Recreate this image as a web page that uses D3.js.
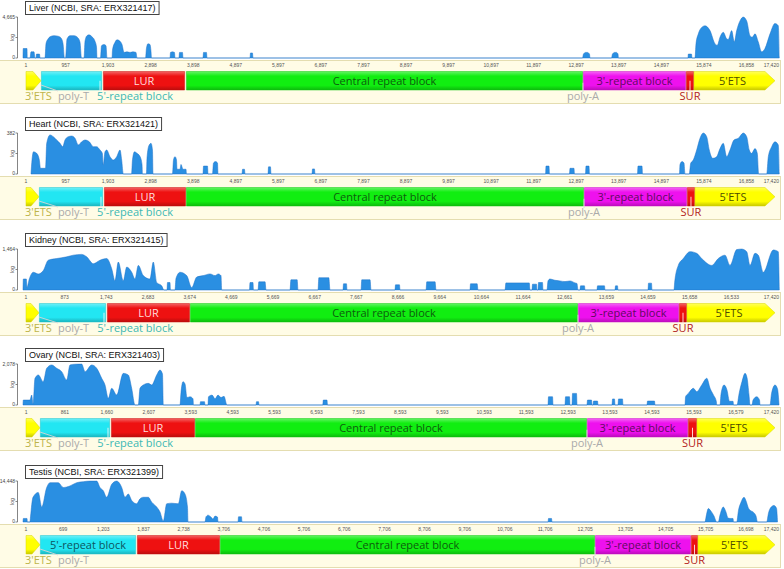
<!DOCTYPE html>
<html><head><meta charset="utf-8">
<script src="https://cdn.jsdelivr.net/npm/d3@7"></script>
<style>body{margin:0;background:#fff}svg{display:block}</style>
</head><body><svg id="c" width="784" height="569"></svg>
<script>
// ---------------- DATA ----------------
const sampleNames = ["Liver (NCBI, SRA: ERX321417)", "Heart (NCBI, SRA: ERX321421)", "Kidney (NCBI, SRA: ERX321415)", "Ovary (NCBI, SRA: ERX321403)", "Testis (NCBI, SRA: ERX321399)"];
const maxCoverage = [4665, 382, 1464, 2078, 14448];
// number of alignment columns shown in each track
const alignmentLength = [17790, 17790, 18168, 18054, 18849];
const featureNames = ["3'ETS", "5'-repeat block", "LUR", "Central repeat block", "3'-repeat block", "SUR", "5'ETS"];

// ruler labels: reference position at alignment columns (first, every 1000th, last)
const liverTicks = ["1","957","1,903","2,898","3,898","4,897","5,897","6,897","7,897","8,897","9,897","10,897","11,897","12,897","13,897","14,897","15,874","16,858","17,420"];
const heartTicks = ["1","957","1,903","2,898","3,898","4,897","5,897","6,897","7,897","8,897","9,897","10,897","11,897","12,897","13,897","14,897","15,874","16,858","17,420"];
const kidneyTicks = ["1","873","1,743","2,683","3,674","4,669","5,669","6,667","7,667","8,666","9,664","10,664","11,664","12,661","13,659","14,659","15,658","16,533","17,420"];
const ovaryTicks = ["1","861","1,660","2,607","3,593","4,593","5,593","6,593","7,593","8,593","9,593","10,593","11,593","12,593","13,593","14,593","15,593","16,579","17,420"];
const testisTicks = ["1","699","1,203","1,837","2,738","3,706","4,706","5,706","6,706","7,706","8,706","9,706","10,706","11,706","12,705","13,705","14,705","15,705","16,698","17,420"];

// annotation spans [startColumn, endColumn] in featureNames order
const liverSpans = [[70,423],[423,1857],[1880,3807],[3831,13160],[13160,15581],[15581,15769],[15769,17672]];
const heartSpans = [[70,376],[376,1880],[1904,3831],[3831,13184],[13184,15604],[15604,15792],[15792,17672]];
const kidneySpans = [[72,384],[384,1992],[2016,4008],[4008,13320],[13320,15744],[15744,15936],[15936,18048]];
const ovarySpans = [[72,405],[405,2075],[2099,4102],[4102,13451],[13451,15860],[15860,16075],[16075,17935]];
const testisSpans = [[75,423],[423,2814],[2839,4905],[4905,14243],[14243,16633],[16633,16808],[16808,18725]];

// coverage: [alignment column, log10 depth]
const liverCoverage = [[0,0],[5,0.85],[94,0.85],[100,0],
[165,0],[188,0.55],[259,0.55],[282,0],
[306,0],[317,0.35],[388,0.35],[400,0],
[517,0],[541,1.3],[588,1.7],[635,1.9],[729,2.0],[823,1.95],[893,1.8],[940,1.3],[975,0],
[999,0],[1034,1.7],[1105,2.0],[1199,2.0],[1293,1.8],[1340,1.4],[1375,0],
[1434,0],[1457,1.5],[1504,2.0],[1551,2.07],[1622,1.9],[1692,1.5],[1727,1.0],[1739,0],
[1821,0],[1845,1.1],[1904,1.2],[1951,1.1],[1974,0],
[2092,0],[2103,0.7],[2162,1.4],[2209,1.63],[2280,1.5],[2327,1.2],[2374,0.5],[2444,0.55],[2515,0.5],[2585,0.55],[2656,0.5],[2679,0],
[2879,0],[2902,0.9],[2938,1.28],[2985,1.2],[3008,0.6],[3020,0],
[3455,0],[3466,0.5],[3513,0.55],[3560,0.5],[3572,0],
[3666,0],[3678,0.5],[3748,0.5],[3760,0],
[4230,0],[4242,0.5],[4312,0.5],[4324,0],
[5335,0],[5346,0.45],[5393,0.45],[5405,0],
[13148,0],[13172,0.35],[13219,0.5],[13266,0.5],[13313,0.35],[13325,0],
[13830,0],[13853,0.35],[13900,0.5],[13947,0.5],[13983,0.35],[13994,0],
[15628,0],[15635,0.35],[15710,0.35],[15722,0],
[15792,0],[15816,1.28],[15870,2.16],[15950,2.74],[16027,2.88],[16145,2.45],[16262,1.28],[16316,1.14],[16380,1.86],[16457,2.3],[16537,1.72],[16575,1.66],[16654,2.45],[16716,1.43],[16772,2.45],[16850,3.32],[16927,3.66],[17007,3.32],[17085,2.0],[17139,1.86],[17202,2.16],[17280,1.43],[17359,0.55],[17437,0.85],[17555,2.16],[17672,3.09],[17750,2.88],[17773,0]];

const heartCoverage = [[188,0],[212,0.9],[247,1.4],[322,1.3],[383,0.9],[411,0.36],[529,0.36],[557,1.93],[635,2.46],[712,2.35],[792,2.14],[870,1.93],[933,1.72],[987,2.14],[1065,2.35],[1144,2.39],[1222,2.25],[1300,1.83],[1379,2.03],[1457,2.14],[1558,2.03],[1652,1.72],[1732,1.72],[1810,1.51],[1864,1.3],[1887,0.57],[1927,1.4],[1967,1.51],[2045,1.09],[2122,0.88],[2202,1.09],[2280,1.51],[2319,0.88],[2357,0],
[2550,0],[2573,0.9],[2620,1.4],[2679,1.3],[2750,1.1],[2797,0.6],[2808,0],
[2902,0],[2914,1.0],[2961,1.8],[3008,1.93],[3043,1.5],[3055,0],
[3513,0],[3537,0.9],[3572,1.09],[3607,0.9],[3619,0.3],[3690,0.3],[3713,0.6],[3760,0.3],[3831,0.3],[3842,0],
[4230,0],[4242,0.5],[4336,0.5],[4348,0],
[4453,0],[4477,0.7],[4524,0.78],[4571,0.7],[4583,0],
[5147,0],[5160,0.3],[5205,0.3],[5217,0],
[5758,0],[5770,0.45],[5816,0.45],[5828,0],
[6792,0],[6804,0.32],[6850,0.32],[6862,0],
[12280,0],[12291,0.5],[12361,0.5],[12373,0],
[12843,0],[12855,0.36],[12949,0.36],[12960,0],
[13219,0],[13231,0.5],[13301,0.5],[13313,0],
[14441,0],[14453,0.5],[14547,0.5],[14559,0],
[15428,0],[15440,0.6],[15487,0.78],[15534,0.7],[15557,0],
[15658,0],[15691,0.67],[15752,0.88],[15832,1.51],[15910,2.25],[15987,2.58],[16067,2.35],[16128,1.51],[16208,0.99],[16302,1.09],[16380,1.6],[16457,1.93],[16537,1.09],[16615,1.51],[16709,2.14],[16810,2.25],[16927,2.58],[17007,2.35],[17068,1.51],[17124,1.3],[17202,1.6],[17256,1.3],[17289,0],
[17477,0],[17515,1.09],[17594,1.72],[17672,2.03],[17750,1.83],[17773,0]];

const kidneyCoverage = [[0,0],[8,0.85],[80,0.85],[96,0.2],[151,0.85],[247,1.37],[367,1.24],[487,1.5],[607,2.3],[809,2.43],[1049,2.56],[1207,2.69],[1409,2.75],[1529,2.56],[1687,2.03],[1848,2.3],[2009,2.43],[2129,1.64],[2208,0.71],[2287,2.16],[2407,0.71],[2489,1.77],[2609,1.37],[2688,0.85],[2767,1.9],[2887,1.11],[3048,0.85],[3127,2.16],[3209,0.58],[3329,0.32],[3384,0],
[3456,0],[3468,0.58],[3528,0.58],[3540,0],
[3648,0],[3672,0.9],[3768,1.37],[3929,1.11],[4049,0.18],[4169,1.0],[4327,1.11],[4488,1.24],[4608,1.11],[4687,1.24],[4752,1.11],[4769,0],
[5436,0],[5448,0.58],[5520,0.58],[5532,0],
[5640,0],[5660,0.63],[5810,0.63],[5832,0],
[6408,0],[6430,0.79],[6580,0.79],[6600,0],
[7080,0],[7100,0.95],[7340,0.95],[7368,0],
[7680,0],[7692,0.48],[7764,0.48],[7776,0],
[8112,0],[8130,0.79],[8330,0.79],[8352,0],
[8928,0],[8940,0.4],[9036,0.4],[9048,0],
[9672,0],[9690,0.63],[9890,0.63],[9912,0],
[10728,0],[10740,0.48],[10900,0.48],[10920,0],
[11568,0],[11590,0.55],[12150,0.55],[12168,0],
[12216,0],[12228,0.45],[12324,0.45],[12336,0],
[12360,0],[12372,0.58],[12468,0.58],[12480,0],
[12576,0],[12600,0.7],[12648,0.85],[12768,0.75],[12888,0.7],[13008,0.65],[13128,0.7],[13248,0.55],[13296,0.5],[13320,0],
[13368,0],[13380,0.32],[13476,0.32],[13488,0],
[13776,0],[13788,0.32],[13956,0.32],[13968,0],
[14208,0],[14220,0.32],[14268,0.32],[14280,0],
[15000,0],[15012,0.53],[15084,0.53],[15096,0],
[15624,0],[15640,0.6],[15727,1.9],[15847,2.43],[16008,2.96],[16169,2.83],[16289,2.43],[16529,1.9],[16687,2.43],[16848,2.69],[16968,1.9],[17129,3.12],[17249,3.16],[17369,2.96],[17448,1.9],[17568,2.83],[17647,2.69],[17767,1.37],[18007,3.09],[18127,2.96],[18151,0]];

const ovaryCoverage = [[0,0],[7,0.4],[167,0.4],[207,0.81],[239,0.1],[286,2.16],[365,2.43],[484,1.89],[565,2.97],[684,3.24],[804,2.97],[923,2.7],[1042,2.02],[1121,3.24],[1240,3.3],[1400,3.31],[1479,2.7],[1638,3.24],[1758,2.97],[1877,2.16],[1956,1.62],[2034,0.54],[2115,1.35],[2235,0.81],[2392,2.56],[2511,2.43],[2592,1.35],[2671,0],
[2750,0],[2790,1.35],[2869,1.62],[2988,1.75],[3069,1.62],[3189,2.43],[3267,2.83],[3327,2.5],[3346,0],
[3744,0],[3768,1.0],[3816,1.89],[3864,1.7],[3911,0.6],[3983,0.67],[4055,0.5],[4066,0],
[4221,0],[4233,0.27],[4329,0.27],[4341,0],
[4412,0],[4424,0.67],[4508,0.8],[4580,0.5],[4651,0.8],[4723,0.6],[4794,0.7],[4865,0],
[5557,0],[5569,0.27],[5617,0.27],[5629,0],
[7150,0],[7162,0.4],[7250,0.4],[7262,0],
[12521,0],[12533,0.67],[12629,0.67],[12641,0],
[12927,0],[12939,0.67],[13034,0.67],[13046,0],
[13094,0],[13106,0.94],[13201,0.94],[13213,0],
[13451,0],[13463,0.4],[13559,0.4],[13571,0],
[13595,0],[13607,0.32],[13702,0.32],[13714,0],
[14048,0],[14060,0.49],[14107,0.49],[14119,0],
[14191,0],[14203,0.49],[14298,0.49],[14310,0],
[14882,0],[14894,0.32],[15061,0.32],[15073,0],
[15789,0],[15801,0.67],[15868,0.94],[15987,1.35],[16068,1.08],[16188,1.62],[16308,2.16],[16387,1.35],[16467,0.81],[16535,0.3],[16547,0],
[16624,0],[16648,0.9],[16719,1.62],[16791,1.2],[16850,0.3],[16934,0.3],[16946,0],
[17029,0],[17077,0.9],[17148,1.9],[17220,2.56],[17268,2.2],[17315,0.8],[17339,0],
[17387,0],[17411,0.4],[17499,0.67],[17566,0.4],[17578,0],
[17816,0],[17851,0.9],[17935,1.62],[17995,1.3],[18031,0]];

const testisCoverage = [[0,0],[8,0.36],[100,0.36],[108,0],
[174,0],[187,0.53],[249,2.51],[381,3.0],[466,1.52],[590,3.5],[672,3.99],[879,3.99],[1003,3.5],[1170,3.66],[1337,3.99],[1501,4.09],[1668,4.15],[1835,4.15],[1917,3.5],[1999,3.17],[2084,2.51],[2209,3.83],[2333,4.15],[2458,3.5],[2540,2.51],[2622,2.84],[2707,2.18],[2831,1.85],[2913,2.35],[2995,2.51],[3120,2.51],[3205,2.01],[3329,1.52],[3411,1.02],[3493,0.1],[3578,1.85],[3703,1.91],[3867,1.85],[3952,3.17],[4034,2.84],[4096,1.5],[4109,0],
[4532,0],[4557,0.53],[4607,0.69],[4681,0.5],[4731,0.3],[4781,0.6],[4843,0.5],[4856,0],
[5354,0],[5366,0.53],[5441,0.53],[5453,0],
[13073,0],[13085,0.36],[13160,0.36],[13172,0],
[16982,0],[17007,0.5],[17064,1.36],[17131,1.1],[17206,0.6],[17273,0],
[17313,0],[17355,0.7],[17437,1.52],[17505,1.0],[17555,0.4],[17604,0.36],[17679,0.36],[17692,0],
[17771,0],[17816,1.2],[17878,2.0],[17953,2.51],[18015,2.0],[18053,1.5],[18102,1.2],[18177,1.02],[18252,0.6],[18289,0],
[18518,0],[18562,0.9],[18625,1.5],[18700,1.68],[18762,1.4],[18787,0]];

// ---------------- STYLE ----------------
const featureFill = ["#ffff00", "#22e6f2", "#ee1111", "#11ee11", "#ee11ee", "#ee1111", "#ffff00"];
const featureText = ["#4d4d00", "#0d5560", "#ffdede", "#0d5c0d", "#5e0a5e", "#ffdede", "#4d4d00"];
const belowColor = {"3'ETS": "#bdb44a", "poly-T": "#aaaaaa", "5'-repeat block": "#3cb8b4", "poly-A": "#aaaaaa", "SUR": "#b31b1b"};
const layoutTop = [1, 117, 233, 348, 465];
const annoFont = "'Open Sans', 'DejaVu Sans', sans-serif";
const titleFont = "'Liberation Sans', Arial, sans-serif";

const svg = d3.select("#c");
const defs = svg.append("defs");
featureFill.forEach((c, k) => {
  const lg = defs.append("linearGradient").attr("id", "fg" + k).attr("x1", 0).attr("y1", 0).attr("x2", 0).attr("y2", 1);
  lg.append("stop").attr("offset", "0%").attr("stop-color", d3.interpolateRgb(c, "#ffffff")(0.35));
  lg.append("stop").attr("offset", "25%").attr("stop-color", c);
  lg.append("stop").attr("offset", "75%").attr("stop-color", c);
  lg.append("stop").attr("offset", "100%").attr("stop-color", d3.interpolateRgb(c, "#000000")(0.22));
});

const panels = [
  {name: sampleNames[0], max: maxCoverage[0], len: alignmentLength[0], cov: liverCoverage, ticks: liverTicks, spans: liverSpans},
  {name: sampleNames[1], max: maxCoverage[1], len: alignmentLength[1], cov: heartCoverage, ticks: heartTicks, spans: heartSpans},
  {name: sampleNames[2], max: maxCoverage[2], len: alignmentLength[2], cov: kidneyCoverage, ticks: kidneyTicks, spans: kidneySpans},
  {name: sampleNames[3], max: maxCoverage[3], len: alignmentLength[3], cov: ovaryCoverage, ticks: ovaryTicks, spans: ovarySpans},
  {name: sampleNames[4], max: maxCoverage[4], len: alignmentLength[4], cov: testisCoverage, ticks: testisTicks, spans: testisSpans}
];

panels.forEach((p, i) => drawPanel(p, layoutTop[i]));

function drawPanel(p, top) {
  const g = svg.append("g");
  const x = d3.scaleLinear().domain([0, p.len]).range([23, 780]);
  const L = Math.log10(p.max);
  const y = d3.scaleLinear().domain([0, L]).range([top + 57, top + 16]);
  const bt = top + 59;

  // ruler / annotation band
  g.append("rect").attr("x", -1).attr("y", bt + 0.5).attr("width", 781.5).attr("height", 43)
    .attr("fill", "#fffce6").attr("stroke", "#e4ddb0").attr("stroke-width", 1);

  // coverage
  const area = d3.area().x(d => x(d[0])).y0(y(0)).y1(d => y(d[1])).curve(d3.curveMonotoneX);
  g.append("path").datum(p.cov).attr("d", area)
    .attr("fill", "#2a8fe2").attr("stroke", "#1c70c6").attr("stroke-width", 0.5);

  // y axis
  const ax = g.append("g").attr("stroke", "#666").attr("stroke-width", 0.8);
  ax.append("line").attr("x1", 17.5).attr("x2", 17.5).attr("y1", y(L)).attr("y2", y(0));
  [0, L / 2, L].forEach(v => ax.append("line").attr("x1", 15.5).attr("x2", 17.5).attr("y1", y(v)).attr("y2", y(v)));
  const yl = g.append("g").attr("font-family", titleFont).attr("font-size", 5).attr("fill", "#444");
  yl.append("text").attr("x", 15).attr("y", y(L) + 1.8).attr("text-anchor", "end").text(d3.format(",")(p.max));
  yl.append("text").attr("x", 15).attr("y", y(0) + 1.2).attr("text-anchor", "end").text("0");
  yl.append("text").attr("transform", `translate(13.8,${y(L / 2)}) rotate(-90)`).attr("text-anchor", "middle").text("log");

  // title box
  const tg = g.append("g");
  const t = tg.append("text").attr("x", 29).attr("y", top + 10.3).attr("font-family", titleFont)
    .attr("font-size", 9).attr("fill", "#111").text(p.name);
  const tw = t.node().getComputedTextLength();
  tg.insert("rect", "text").attr("x", 25.5).attr("y", top + 0.5).attr("width", tw + 7).attr("height", 13)
    .attr("fill", "#fff").attr("stroke", "#444").attr("stroke-width", 1);

  // ruler labels
  const n = p.ticks.length;
  const tickCols = [p.spans[0][0]].concat(d3.range(1, n - 1).map(k => k * 1000)).concat([p.spans[6][1]]);
  const rl = g.append("g").attr("font-family", titleFont).attr("font-size", 5).attr("fill", "#555");
  p.ticks.forEach((lab, k) => {
    const last = k === n - 1;
    rl.append("text").attr("x", x(tickCols[k]) + (last ? 4 : 0)).attr("y", bt + 7)
      .attr("text-anchor", last ? "end" : "middle").text(lab);
  });

  // annotations
  const fy0 = bt + 11.5, fy1 = bt + 30, fm = (fy0 + fy1) / 2;
  const fg = g.append("g");
  const labelsBelow = [];
  p.spans.forEach((s, k) => {
    const x0 = x(s[0]), x1 = x(s[1]);
    let d;
    if (k === 0) {
      d = `M${x0},${fy0}L${x1 - 8},${fy0}L${x1},${fm}L${x1 - 8},${fy1}L${x0},${fy1}Z`;
    } else if (k === 6) {
      d = `M${x0},${fy0}L${x1 - 10},${fy0}L${x1},${fm}L${x1 - 10},${fy1}L${x0},${fy1}Z`;
    } else {
      d = `M${x0 + 0.4},${fy0}L${x1 - 0.4},${fy0}L${x1 - 0.4},${fy1}L${x0 + 0.4},${fy1}Z`;
    }
    fg.append("path").attr("d", d).attr("fill", `url(#fg${k})`)
      .attr("stroke", d3.interpolateRgb(featureFill[k], "#000")(0.15)).attr("stroke-width", 0.5);
  });
  const tmp = fg.append("text").attr("font-family", annoFont).attr("font-size", 11);
  const measure = s => { tmp.text(s); return tmp.node().getComputedTextLength(); };
  p.spans.forEach((s, k) => {
    const x0 = x(s[0]), x1 = x(s[1]);
    const w = measure(featureNames[k]);
    const avail = (k === 6 ? x1 - 10 : x1) - x0;
    if (w + 6 < avail) {
      fg.append("text").attr("x", (x0 + (k === 6 ? x1 - 4 : x1)) / 2).attr("y", fm + 4)
        .attr("text-anchor", "middle").attr("font-family", annoFont).attr("font-size", 11)
        .attr("fill", featureText[k]).text(featureNames[k]);
    } else {
      labelsBelow.push(k);
    }
  });
  tmp.remove();

  const by = bt + 40;
  const lb = g.append("g").attr("font-family", annoFont).attr("font-size", 11);
  const conn = g.append("g").attr("stroke", "#d6d6d6").attr("stroke-width", 0.9).attr("fill", "none");
  const etsStart = x(p.spans[0][0]) - 1;
  const t3 = lb.append("text").attr("x", etsStart).attr("y", by).attr("fill", belowColor["3'ETS"]).text(featureNames[0]);
  const e3 = etsStart + t3.node().getComputedTextLength();
  const ptX = e3 + 6;
  const tpt = lb.append("text").attr("x", ptX).attr("y", by).attr("fill", belowColor["poly-T"]).text("poly-T");
  conn.append("line").attr("x1", x(p.spans[0][1])).attr("y1", fy1 - 5).attr("x2", ptX).attr("y2", fy1 + 1);
  const ept = ptX + tpt.node().getComputedTextLength();
  if (labelsBelow.includes(1)) {
    lb.append("text").attr("x", ept + 8).attr("y", by).attr("fill", belowColor["5'-repeat block"]).text(featureNames[1]);
    const cx = x(p.spans[1][1]) - 2;
    conn.append("line").attr("x1", cx).attr("y1", fm).attr("x2", cx).attr("y2", fy1 + 2).attr("stroke", "#e8f8f8");
  }
  const pa = x(p.spans[3][1]);
  lb.append("text").attr("x", pa).attr("y", by).attr("text-anchor", "middle").attr("fill", belowColor["poly-A"]).text("poly-A");
  conn.append("line").attr("x1", pa).attr("y1", fm + 2).attr("x2", pa).attr("y2", fy1 + 2);
  const sm = (x(p.spans[5][0]) + x(p.spans[5][1])) / 2;
  lb.append("text").attr("x", sm).attr("y", by).attr("text-anchor", "middle").attr("fill", belowColor["SUR"]).text(featureNames[5]);
  conn.append("line").attr("x1", sm).attr("y1", fm).attr("x2", sm).attr("y2", fy1 + 2).attr("stroke", "#ffe8e8");
}
</script>
</body></html>
